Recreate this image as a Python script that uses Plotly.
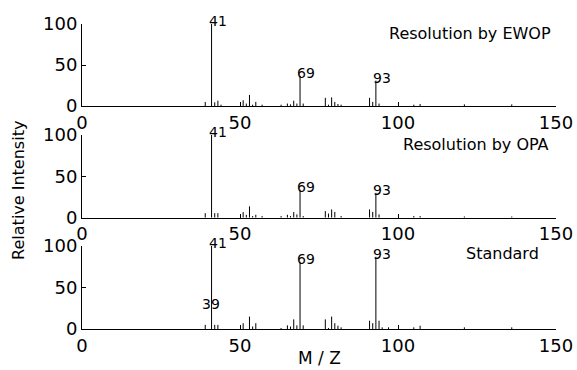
import plotly.graph_objects as go

# Mass spectra: m/z positions and relative intensities for each panel
mz_ewop = [39, 41, 42, 43, 44, 51, 52, 53, 54, 55, 57, 63, 65, 66, 67, 68, 69, 70,
           77, 78, 79, 80, 81, 82, 91, 92, 93, 94, 105, 107, 121, 136]
int_ewop = [5, 100, 4.5, 6.5, 1.6, 7, 3, 13.5, 1.6, 5, 1.6, 1.6, 3, 2, 6.5, 3, 37, 3,
            10, 1.6, 10.5, 5, 2.5, 1.6, 10, 5, 31, 3, 1.6, 2.5, 2, 2]

mz_opa = [39, 41, 42, 43, 51, 52, 53, 54, 55, 57, 63, 65, 66, 67, 68, 69, 70,
          77, 78, 79, 80, 82, 91, 92, 93, 94, 105, 107, 121, 136]
int_opa = [5.5, 100, 5.5, 5.5, 6.8, 3.5, 13.7, 2, 3.5, 2, 2, 3.5, 2, 6.8, 4, 34, 2,
           8, 5, 10, 7, 2, 10, 7, 30, 4, 2, 2, 1.5, 1.5]

mz_std = [39, 41, 42, 43, 51, 53, 54, 55, 63, 65, 66, 67, 68, 69, 70,
          77, 78, 79, 80, 81, 82, 91, 92, 93, 94, 95, 97, 105, 107, 121, 136]
int_std = [5, 100, 5, 5, 7, 15, 3, 7, 1.2, 4.4, 3, 11.6, 4.4, 81, 4.4,
           11.6, 1.2, 15, 7, 4, 2, 10, 7, 87, 10, 2, 2, 2, 4, 2, 2]

# Labelled peaks per panel (m/z values)
labels_ewop = [41, 69, 93]
labels_opa = [41, 69, 93]
labels_std = [41, 69, 93]
# m/z 39 in the standard is tagged higher up, beside the base peak
label_39_y = 27

panel_titles = ["Resolution by EWOP", "Resolution by OPA", "Standard"]
title_pos = [(97, 89), (101.5, 89), (121.5, 91.5)]

x_ticks = [0, 50, 100, 150]
y_ticks = [0, 50, 100]

FONT = "DejaVu Sans, Verdana, sans-serif"

panels = [
    (mz_ewop, int_ewop, labels_ewop),
    (mz_opa, int_opa, labels_opa),
    (mz_std, int_std, labels_std),
]
domains = [[0.7311, 1.0], [0.3649, 0.6361], [0.0, 0.2721]]

fig = go.Figure()
annotations = []

for i, (mz, inten, labs) in enumerate(panels):
    n = i + 1
    xs, ys = [], []
    for m, h in zip(mz, inten):
        xs += [m, m, None]
        ys += [0, h, None]
    xa = "x" if n == 1 else f"x{n}"
    ya = "y" if n == 1 else f"y{n}"
    fig.add_trace(go.Scatter(x=xs, y=ys, mode="lines",
                             line=dict(color="black", width=1),
                             xaxis=xa, yaxis=ya, showlegend=False,
                             hoverinfo="skip"))
    for m in labs:
        h = inten[mz.index(m)]
        annotations.append(dict(x=m, y=h, xref=xa, yref=ya, text=str(m),
                                showarrow=False, xanchor="left", yanchor="bottom",
                                xshift=-5, yshift=-7,
                                font=dict(family=FONT, size=14, color="black")))
    tx, ty = title_pos[i]
    annotations.append(dict(x=tx, y=ty, xref=xa, yref=ya, text=panel_titles[i],
                            showarrow=False, xanchor="left", yanchor="middle",
                            xshift=-2,
                            font=dict(family=FONT, size=16, color="black")))

    axis_common = dict(showgrid=False, zeroline=False, showline=True,
                       linecolor="black", linewidth=1, ticks="inside",
                       ticklen=4, tickcolor="black", tickwidth=1,
                       automargin=False,
                       tickfont=dict(family=FONT, size=18, color="black"))
    xkey = "xaxis" if n == 1 else f"xaxis{n}"
    ykey = "yaxis" if n == 1 else f"yaxis{n}"
    fig.update_layout(**{
        xkey: dict(range=[0, 150], tickvals=x_ticks, domain=[0, 1],
                   anchor=ya, **axis_common),
        ykey: dict(range=[0, 100], tickvals=y_ticks, domain=domains[i],
                   anchor=xa, **axis_common),
    })

# 39 label in the standard spectrum
annotations.append(dict(x=39, y=label_39_y, xref="x3", yref="y3", text="39",
                        showarrow=False, xanchor="left", yanchor="bottom",
                        xshift=-5, yshift=-7,
                        font=dict(family=FONT, size=14, color="black")))

# shared axis titles
annotations.append(dict(x=-0.133, y=0.456, xref="paper", yref="paper",
                        text="Relative Intensity", textangle=-90, showarrow=False,
                        xanchor="center", yanchor="middle",
                        font=dict(family=FONT, size=16, color="black")))
annotations.append(dict(x=0.502, y=-0.095, xref="paper", yref="paper",
                        text="M / Z", showarrow=False,
                        xanchor="center", yanchor="middle",
                        font=dict(family=FONT, size=17, color="black")))

fig.update_layout(width=577, height=370,
                  margin=dict(l=82, r=21, t=24, b=41),
                  paper_bgcolor="white", plot_bgcolor="white",
                  annotations=annotations)

fig.write_html("out.html")
